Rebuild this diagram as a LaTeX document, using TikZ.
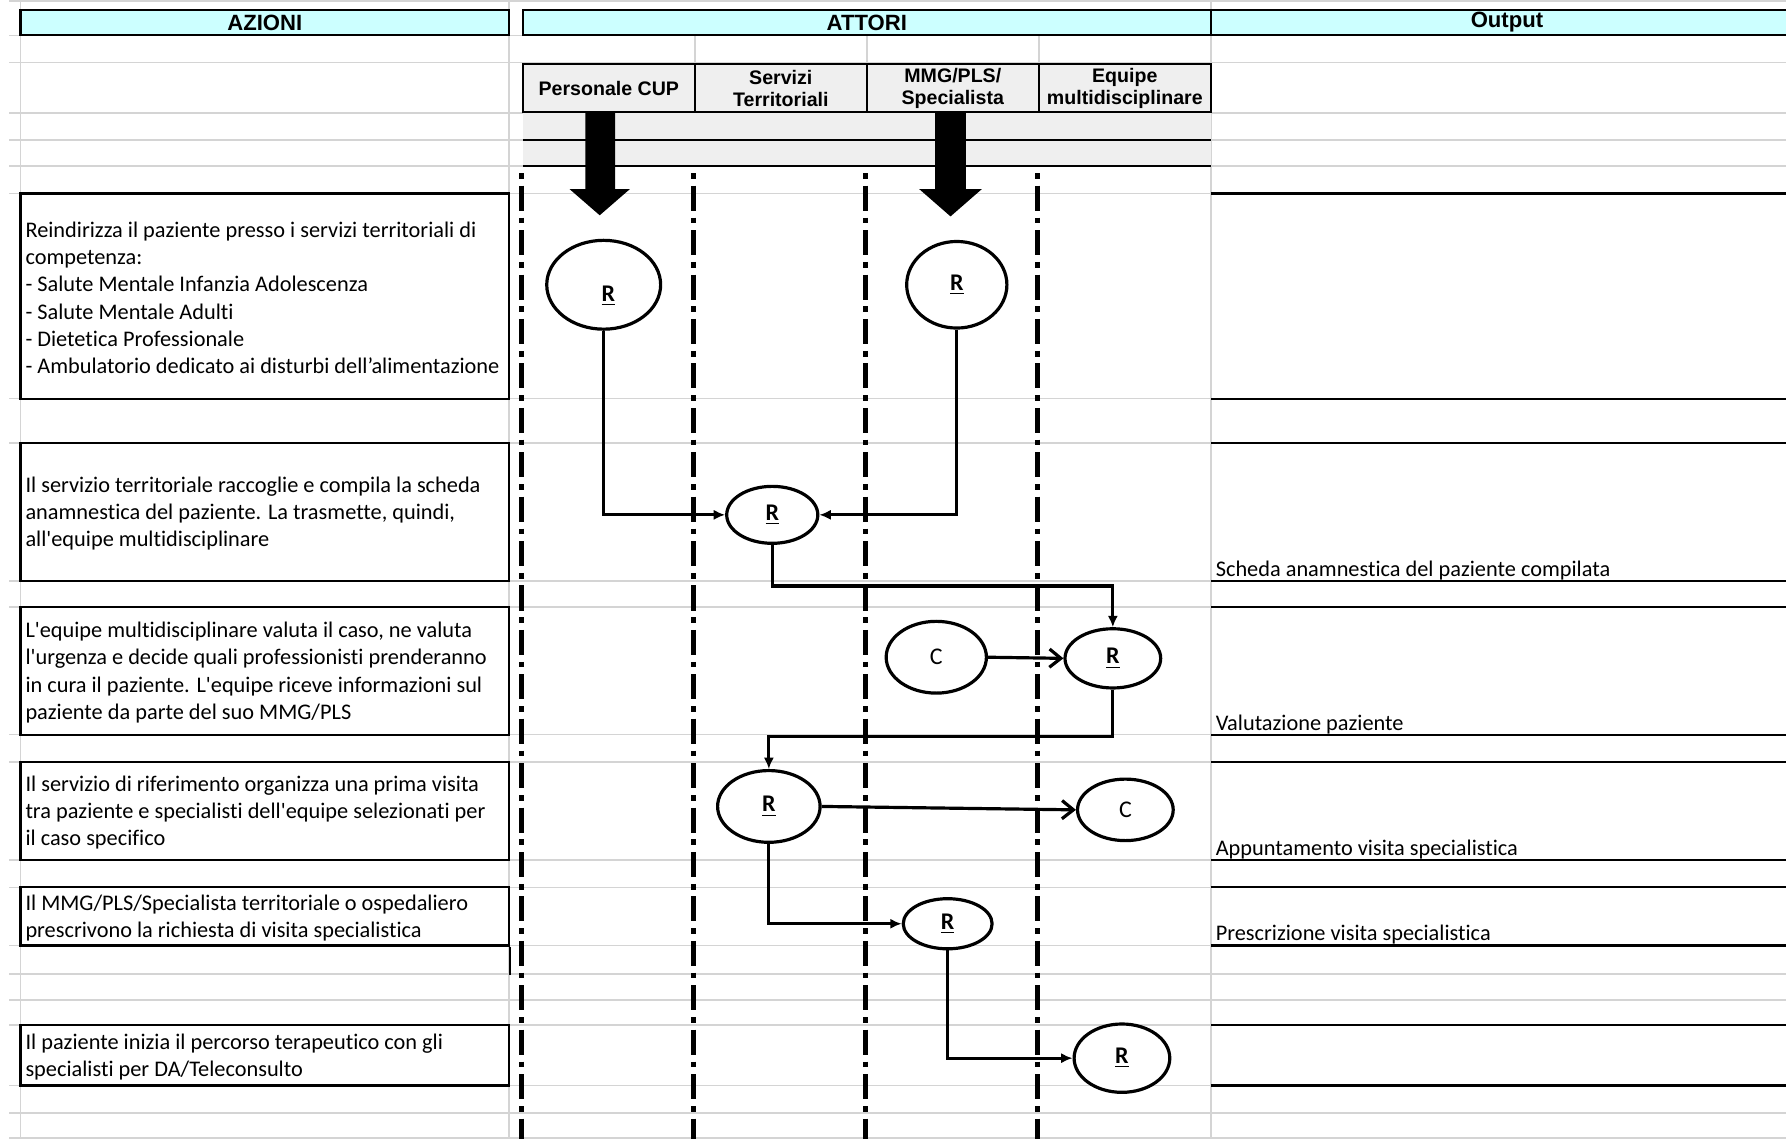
\documentclass[tikz,border=0pt]{standalone}
\usepackage{fontspec}
\setmainfont{Carlito}[Ligatures={TeXOff,NoCommon}]
\newfontfamily\hdrfont{Liberation Sans}
\usetikzlibrary{shapes.geometric,arrows.meta,calc}
\definecolor{hdrcyan}{RGB}{204,255,255}
\definecolor{hdrgray}{RGB}{239,239,239}
\definecolor{gridgray}{RGB}{212,212,212}
\begin{document}
\begin{tikzpicture}[x=0.5pt,y=-0.5pt,
  gridline/.style={draw=gridgray,line width=0.7pt},
  hdrbox/.style={draw=black,line width=1pt,fill=hdrcyan,inner sep=0pt,minimum height=11pt},
  hdrtext/.style={font=\hdrfont\bfseries\fontsize{9.7}{11}\selectfont,inner sep=0pt},
  actorbox/.style={draw=black,line width=1pt,fill=hdrgray,minimum width=75.5pt,minimum height=21pt,inner sep=0pt,align=center,font=\hdrfont\bfseries\fontsize{8.6}{9.6}\selectfont},
  lane/.style={line width=2.2pt,dash pattern=on 2.5pt off 3pt on 11pt off 3pt},
  actbox/.style={draw=black,line width=1pt,minimum width=214.5pt,inner sep=0pt},
  acttext/.style={anchor=west,inner sep=1pt,align=left,font=\fontsize{9.8}{12}\selectfont},
  outtext/.style={anchor=base west,inner sep=0pt,font=\fontsize{9.8}{12}\selectfont},
  role/.style={ellipse,draw=black,line width=1.4pt,fill=white,inner sep=0pt,font=\fontsize{10.5}{11}\selectfont},
  conn/.style={line width=1.4pt,-{Latex[length=5pt,width=4.5pt]}},
  openconn/.style={line width=1.4pt,-{Straight Barb[length=5pt,width=8pt]}},
  bigarrow/.style={fill=black},
  outline/.style={draw=black,line width=1pt}
]
\useasboundingbox (0,0) rectangle (1568,1000);

% spreadsheet grid
\foreach \y in {1,31,55,99,123,146,170,350,389,510,533,645,669,755,779,830,855,878,900,953,977,999}
  \draw[gridline] (8,\y) -- (1568,\y);
\foreach \x in {18,447,1063}
  \draw[gridline] (\x,0) -- (\x,1000);
\foreach \x in {610,761,912}
  \draw[gridline] (\x,31) -- (\x,55);

% top headers
\node[hdrbox,minimum width=214.5pt] (hAz) at (232.5,20) {};
\node[hdrtext] at (hAz.center) {AZIONI};
\node[hdrbox,minimum width=302pt] (hAt) at (761,20) {};
\node[hdrtext] at (hAt.center) {ATTORI};
\node[hdrbox,minimum width=270pt] (hOut) at (1333,20) {};
\node[hdrtext] at (1323,19) {Output};

% grey band under actor headers
\fill[hdrgray] (459,99) rectangle (1063,146);
\draw[outline] (459,123) -- (1063,123);
\draw[outline] (459,146) -- (1063,146);

% actor headers
\node[actorbox] (ah1) at (534.5,77.5) {Personale CUP};
\node[actorbox] (ah2) at (685.5,77.5) {\strut Servizi\\Territoriali};
\node[actorbox] (ah3) at (836.5,77.5) {\strut MMG/PLS/\\Specialista};
\node[actorbox] (ah4) at (987.5,77.5) {\strut Equipe\\multidisciplinare};

% swimlane separators
\foreach \x in {458,609,760,911}
  \draw[lane] (\x,152) -- (\x,1000);

% big entry arrows
\fill[bigarrow] (514,99) -- (540,99) -- (540,166) -- (553,166) -- (526.5,189) -- (500,166) -- (514,166) -- cycle;
\fill[bigarrow] (821,99) -- (848,99) -- (848,166) -- (862,166) -- (834.5,190) -- (807,166) -- (821,166) -- cycle;

% output column borders
\foreach \y in {170,350,389,510,533,645,669,755,779,830,900,953}
  \draw[outline] (1063,\y) -- (1568,\y);

% action boxes
\node[actbox,minimum height=90pt] (a1) at (232.5,260) {};
\node[acttext] at ($(a1.west)+(3,1.5)$) {Reindirizza il paziente presso i servizi territoriali di\\competenza:\\- Salute Mentale Infanzia Adolescenza\\- Salute Mentale Adulti\\- Dietetica Professionale\\- Ambulatorio dedicato ai disturbi dell’alimentazione};
\node[actbox,minimum height=60.5pt] (a2) at (232.5,449.5) {};
\node[acttext] at ($(a2.west)+(3,1.5)$) {Il servizio territoriale raccoglie e compila la scheda\\anamnestica del paziente. La trasmette, quindi,\\all'equipe multidisciplinare};
\node[actbox,minimum height=56pt] (a3) at (232.5,589) {};
\node[acttext] at ($(a3.west)+(3,1.5)$) {L'equipe multidisciplinare valuta il caso, ne valuta\\l'urgenza e decide quali professionisti prenderanno\\in cura il paziente. L'equipe riceve informazioni sul\\paziente da parte del suo MMG/PLS};
\node[actbox,minimum height=43pt] (a4) at (232.5,712) {};
\node[acttext] at ($(a4.west)+(3,1.5)$) {Il servizio di riferimento organizza una prima visita\\tra paziente e specialisti dell'equipe selezionati per\\il caso specifico};
\node[actbox,minimum height=25.5pt] (a5) at (232.5,804.5) {};
\node[acttext] at ($(a5.west)+(3,1.5)$) {Il MMG/PLS/Specialista territoriale o ospedaliero\\prescrivono la richiesta di visita specialistica};
\draw[outline] (a5.south east) -- ++(0,25);
\node[actbox,minimum height=26.5pt] (a6) at (232.5,926.5) {};
\node[acttext] at ($(a6.west)+(3,1.5)$) {Il paziente inizia il percorso terapeutico con gli\\specialisti per DA/Teleconsulto};

% outputs
\node[outtext] (o1) at (1067,506) {Scheda anamnestica del paziente compilata};
\node[outtext] (o2) at (1067,641) {Valutazione paziente};
\node[outtext] (o3) at (1067,751) {Appuntamento visita specialistica};
\node[outtext] (o4) at (1067,826) {Prescrizione visita specialistica};

% role nodes
\node[role,minimum width=50pt,minimum height=39pt,label={[inner sep=0pt,xshift=2pt,yshift=-5pt,font=\fontsize{10.5}{11}\selectfont]center:\underline{\textbf{R}}}] (r1) at (530,250) {};
\node[role,minimum width=44pt,minimum height=38pt] (r2) at (840,250) {\underline{\textbf{R}}};
\node[role,minimum width=40pt,minimum height=25pt] (r3) at (678,452) {\underline{\textbf{R}}};
\node[role,minimum width=44pt,minimum height=31.5pt] (c1) at (822,577) {C};
\node[role,minimum width=42pt,minimum height=26pt] (r4) at (977,578) {\underline{\textbf{R}}};
\node[role,minimum width=45pt,minimum height=31.5pt] (r5) at (675,708) {\underline{\textbf{R}}};
\node[role,minimum width=42pt,minimum height=27pt] (c2) at (988,711) {C};
\node[role,minimum width=39pt,minimum height=22pt] (r6) at (832,811) {\underline{\textbf{R}}};
\node[role,minimum width=42pt,minimum height=30pt] (r7) at (985,929) {\underline{\textbf{R}}};

% connectors
\draw[conn] (r1.south) |- (r3.west);
\draw[conn] (r2.south) |- (r3.east);
\draw[conn] (r3.south) |- ($(r3.south)!.5!(r4.north)$) -| (r4.north);
\draw[openconn] (c1.east) -- (r4.west);
\draw[conn] (r4.south) |- ($(r4.south)+(0,41)$) -| (r5.north);
\draw[openconn] (r5.east) -- (c2.west);
\draw[conn] (r5.south) |- (r6.west);
\draw[conn] (r6.south) |- (r7.west);
\end{tikzpicture}
\end{document}
